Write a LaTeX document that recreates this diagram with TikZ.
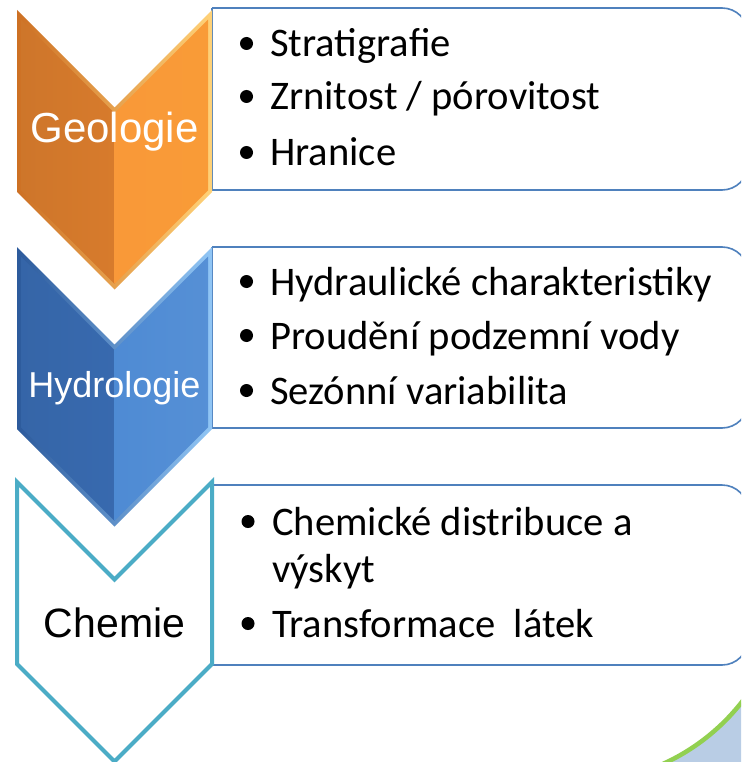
\documentclass[tikz,border=0pt]{standalone}
\usepackage{fontspec}
\setmainfont{Carlito}
\newfontfamily\arialf{Liberation Sans}
\definecolor{oL}{RGB}{224,128,46}
\definecolor{oR}{RGB}{249,150,58}
\definecolor{oBL}{RGB}{205,112,36}
\definecolor{oBR}{RGB}{255,210,120}
\definecolor{bL}{RGB}{58,110,182}
\definecolor{bR}{RGB}{71,134,210}
\definecolor{bBL}{RGB}{44,90,156}
\definecolor{bBR}{RGB}{145,198,245}
\definecolor{tealc}{RGB}{75,172,198}
\definecolor{boxblue}{RGB}{79,129,189}
\definecolor{cornerfill}{RGB}{185,205,229}
\definecolor{cornergreen}{RGB}{146,208,80}
% chevron path: #1 = top y, #2 = inset
\newcommand\chevp[2]{({17+#2},{#1+1.414*#2+#2}) -- (114.5,{#1+97.5+1.414*#2}) -- ({212-#2},{#1+1.414*#2+#2}) -- ({212-#2},{#1+182-1.414*#2+#2}) -- (114.5,{#1+279.5-1.414*#2}) -- ({17+#2},{#1+182-1.414*#2+#2}) -- cycle}
\tikzset{
  boxline/.style={draw=boxblue, line width=1.6pt},
  itemtext/.style={anchor=base west, inner sep=0pt, font=\fontsize{40.6}{48}\selectfont},
  bul/.style={circle, fill=black, inner sep=0pt, minimum size=13pt},
  chevlabel/.style={anchor=base, inner sep=0pt},
}
\begin{document}
\begin{tikzpicture}[x=1pt,y=-1pt]
\useasboundingbox (0,0) rectangle (741,762);
\clip (0,0) rectangle (741,762);
\fill[white] (0,0) rectangle (741,762);

% corner decoration
\begin{scope}
  \clip (600,670) rectangle (741,762);
  \fill[cornerfill, even odd rule] (560,640) rectangle (800,800) (576.5,572.5) circle[radius=210];
  \draw[cornergreen, line width=4.5pt] (576.5,572.5) circle[radius=210];
\end{scope}

% boxes
\foreach \ta/\tb in {8/190, 247/428, 485/665} {
  \begin{scope}
    \clip (212,0) rectangle (760,762);
    \draw[boxline, rounded corners=26pt] (150,\ta) rectangle (748,\tb);
  \end{scope}
  \draw[boxline] (212,\ta) -- (212,\tb);
}

% chevron 1 (orange)
\shade[left color=oBL, right color=oBR] \chevp{10}{0};
\begin{scope}
  \clip (0,0) rectangle (114.5,320);
  \shade[left color=oL!92!black, right color=oL] \chevp{10}{4};
\end{scope}
\begin{scope}
  \clip (114.5,0) rectangle (230,320);
  \shade[left color=oR, right color=oR!95!yellow] \chevp{10}{4};
\end{scope}
\node[chevlabel, text=white, font=\arialf\fontsize{42}{50}\selectfont] (geo) at (114.5,143) {Geologie};

% chevron 2 (blue)
\shade[left color=bBL, right color=bBR] \chevp{247}{0};
\begin{scope}
  \clip (0,240) rectangle (114.5,560);
  \shade[left color=bL!92!black, right color=bL] \chevp{247}{4};
\end{scope}
\begin{scope}
  \clip (114.5,240) rectangle (230,560);
  \shade[left color=bR, right color=bR!92!white] \chevp{247}{4};
\end{scope}
\node[chevlabel, text=white, font=\arialf\fontsize{36}{44}\selectfont] (hyd) at (114.5,397) {Hydrologie};

% chevron 3 (outline)
\draw[tealc, line width=4pt, fill=white] \chevp{482}{0};
\node[chevlabel, text=black, font=\arialf\fontsize{41}{49}\selectfont] (che) at (114.5,637) {Chemie};

% box 1 items
\node[bul] (b11) at (246.5,43.5) {};
\node[itemtext] (t11) at (270,57) {Stratigrafie};
\node[bul] (b12) at (246.5,96.5) {};
\node[itemtext] (t12) at (270,110) {Zrnitost / pórovitost};
\node[bul] (b13) at (246.5,152.5) {};
\node[itemtext] (t13) at (270,166) {Hranice};

% box 2 items
\node[bul] (b21) at (246.5,281.5) {};
\node[itemtext] (t21) at (270,295) {Hydraulické charakteristiky};
\node[bul] (b22) at (246.5,335.5) {};
\node[itemtext] (t22) at (270,349) {Proudění podzemní vody};
\node[bul] (b23) at (246.5,390.5) {};
\node[itemtext] (t23) at (270,404) {Sezónní variabilita};

% box 3 items
\node[bul] (b31) at (248,521.5) {};
\node[itemtext] (t31) at (272,535) {Chemické distribuce a};
\node[itemtext] (t31b) at (272,582) {výskyt};
\node[bul] (b32) at (248,623.5) {};
\node[itemtext] (t32) at (272,637) {Transformace~~látek};
\end{tikzpicture}
\end{document}
